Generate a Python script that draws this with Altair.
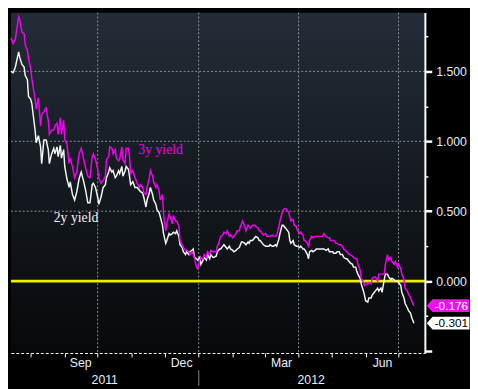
import altair as alt
import pandas as pd

# ---------------- data ----------------
dates = [
    "2011-07-14", "2011-07-16", "2011-07-18", "2011-07-21", "2011-07-22", "2011-07-24", "2011-07-26", "2011-07-27", "2011-07-29", "2011-07-30",
    "2011-08-01", "2011-08-02", "2011-08-05", "2011-08-06", "2011-08-08", "2011-08-10", "2011-08-11", "2011-08-13", "2011-08-15", "2011-08-17",
    "2011-08-18", "2011-08-20", "2011-08-22", "2011-08-23", "2011-08-25", "2011-08-26", "2011-08-28", "2011-08-29", "2011-08-31", "2011-09-01",
    "2011-09-03", "2011-09-05", "2011-09-06", "2011-09-08", "2011-09-10", "2011-09-12", "2011-09-14", "2011-09-16", "2011-09-18", "2011-09-20",
    "2011-09-22", "2011-09-24", "2011-09-26", "2011-09-27", "2011-09-29", "2011-10-01", "2011-10-02", "2011-10-04", "2011-10-06", "2011-10-08",
    "2011-10-09", "2011-10-11", "2011-10-12", "2011-10-14", "2011-10-15", "2011-10-17", "2011-10-18", "2011-10-20", "2011-10-21", "2011-10-23",
    "2011-10-24", "2011-10-26", "2011-10-27", "2011-10-29", "2011-10-30", "2011-10-31", "2011-11-02", "2011-11-04", "2011-11-06", "2011-11-08",
    "2011-11-09", "2011-11-11", "2011-11-12", "2011-11-14", "2011-11-15", "2011-11-17", "2011-11-18", "2011-11-20", "2011-11-21", "2011-11-23",
    "2011-11-24", "2011-11-26", "2011-11-27", "2011-11-29", "2011-11-30", "2011-12-02", "2011-12-03", "2011-12-05", "2011-12-06", "2011-12-08",
    "2011-12-09", "2011-12-11", "2011-12-12", "2011-12-14", "2011-12-15", "2011-12-17", "2011-12-18", "2011-12-20", "2011-12-21", "2011-12-23",
    "2011-12-24", "2011-12-26", "2011-12-27", "2011-12-28", "2011-12-30", "2011-12-31", "2012-01-02", "2012-01-03", "2012-01-05", "2012-01-06",
    "2012-01-08", "2012-01-09", "2012-01-11", "2012-01-12", "2012-01-14", "2012-01-15", "2012-01-17", "2012-01-18", "2012-01-20", "2012-01-21",
    "2012-01-23", "2012-01-24", "2012-01-26", "2012-01-27", "2012-01-29", "2012-01-30", "2012-02-01", "2012-02-02", "2012-02-04", "2012-02-05",
    "2012-02-07", "2012-02-08", "2012-02-09", "2012-02-10", "2012-02-12", "2012-02-13", "2012-02-15", "2012-02-16", "2012-02-17", "2012-02-19",
    "2012-02-21", "2012-02-22", "2012-02-24", "2012-02-25", "2012-02-26", "2012-02-28", "2012-02-29", "2012-03-02", "2012-03-03", "2012-03-05",
    "2012-03-06", "2012-03-08", "2012-03-09", "2012-03-11", "2012-03-12", "2012-03-14", "2012-03-15", "2012-03-17", "2012-03-18", "2012-03-20",
    "2012-03-21", "2012-03-23", "2012-03-24", "2012-03-25", "2012-03-27", "2012-03-28", "2012-03-30", "2012-03-31", "2012-04-02", "2012-04-03",
    "2012-04-05", "2012-04-06", "2012-04-07", "2012-04-09", "2012-04-10", "2012-04-11", "2012-04-13", "2012-04-14", "2012-04-16", "2012-04-17",
    "2012-04-19", "2012-04-20", "2012-04-21", "2012-04-23", "2012-04-24", "2012-04-26", "2012-04-28", "2012-04-29", "2012-04-30", "2012-05-02",
    "2012-05-03", "2012-05-05", "2012-05-06", "2012-05-08", "2012-05-09", "2012-05-11", "2012-05-12", "2012-05-14", "2012-05-15", "2012-05-17",
    "2012-05-18", "2012-05-20", "2012-05-21", "2012-05-23", "2012-05-24", "2012-05-25", "2012-05-27", "2012-05-28", "2012-05-30", "2012-05-31",
    "2012-06-01", "2012-06-03", "2012-06-04", "2012-06-06", "2012-06-07", "2012-06-09", "2012-06-10", "2012-06-12", "2012-06-13", "2012-06-15",
    "2012-06-16", "2012-06-18", "2012-06-19", "2012-06-21", "2012-06-22", "2012-06-24", "2012-06-25", "2012-06-27", "2012-06-28", "2012-06-30",
    "2012-07-01", "2012-07-03", "2012-07-04", "2012-07-06", "2012-07-07", "2012-07-09", "2012-07-10", "2012-07-12", "2012-07-13", "2012-07-15",
]

yield_3y = [
    1.74, 1.70, 1.73, 1.89, 1.87, 1.78, 1.77, 1.69, 1.65, 1.59,
    1.52, 1.45, 1.30, 1.23, 1.31, 1.11, 1.19, 1.21, 1.24, 1.15,
    1.05, 1.08, 1.08, 1.11, 1.13, 1.05, 1.17, 1.05, 1.15, 1.01,
    0.98, 0.84, 0.88, 0.82, 0.74, 0.78, 0.91, 0.95, 0.88, 0.81,
    0.75, 0.74, 0.89, 0.91, 0.87, 0.80, 0.74, 0.70, 0.72, 0.75,
    0.87, 0.89, 0.96, 0.95, 0.91, 0.94, 0.88, 0.86, 0.87, 0.96,
    0.87, 0.84, 0.95, 0.95, 0.89, 0.77, 0.79, 0.74, 0.70, 0.67,
    0.69, 0.67, 0.63, 0.62, 0.67, 0.74, 0.79, 0.75, 0.71, 0.67,
    0.69, 0.64, 0.58, 0.62, 0.48, 0.36, 0.41, 0.48, 0.46, 0.41,
    0.47, 0.43, 0.43, 0.39, 0.29, 0.26, 0.24, 0.22, 0.22, 0.21,
    0.19, 0.21, 0.19, 0.17, 0.10, 0.09, 0.15, 0.17, 0.16, 0.19,
    0.17, 0.21, 0.19, 0.22, 0.21, 0.21, 0.21, 0.25, 0.29, 0.32,
    0.33, 0.35, 0.34, 0.36, 0.32, 0.33, 0.31, 0.32, 0.34, 0.36,
    0.36, 0.39, 0.41, 0.43, 0.39, 0.36, 0.40, 0.39, 0.38, 0.40,
    0.40, 0.39, 0.38, 0.36, 0.36, 0.34, 0.33, 0.34, 0.32, 0.32,
    0.32, 0.33, 0.32, 0.32, 0.33, 0.39, 0.43, 0.49, 0.51, 0.52,
    0.51, 0.49, 0.46, 0.43, 0.44, 0.40, 0.39, 0.36, 0.34, 0.35,
    0.33, 0.29, 0.29, 0.27, 0.25, 0.29, 0.32, 0.31, 0.32, 0.32,
    0.32, 0.32, 0.32, 0.32, 0.34, 0.32, 0.31, 0.31, 0.29, 0.29,
    0.29, 0.27, 0.27, 0.26, 0.26, 0.25, 0.23, 0.22, 0.21, 0.19,
    0.19, 0.18, 0.17, 0.16, 0.16, 0.12, 0.08, 0.02, -0.01, -0.03,
    -0.02, -0.02, -0.01, -0.02, 0.02, 0.03, 0.03, 0.00, 0.05, 0.05,
    0.05, 0.05, 0.12, 0.19, 0.15, 0.17, 0.14, 0.12, 0.14, 0.10,
    0.12, 0.09, 0.05, 0.01, -0.05, -0.07, -0.09, -0.12, -0.14, -0.176,
]

yield_2y = [
    1.50, 1.49, 1.53, 1.64, 1.60, 1.55, 1.53, 1.47, 1.44, 1.32,
    1.30, 1.27, 1.08, 0.99, 1.04, 0.96, 0.84, 1.01, 1.01, 0.94,
    0.84, 0.91, 0.95, 0.91, 0.96, 0.89, 0.97, 0.88, 0.94, 0.82,
    0.73, 0.67, 0.71, 0.62, 0.58, 0.64, 0.73, 0.78, 0.72, 0.65,
    0.56, 0.56, 0.69, 0.70, 0.67, 0.60, 0.55, 0.60, 0.67, 0.69,
    0.74, 0.78, 0.81, 0.78, 0.79, 0.74, 0.75, 0.79, 0.77, 0.82,
    0.75, 0.79, 0.82, 0.80, 0.75, 0.69, 0.71, 0.67, 0.67, 0.65,
    0.64, 0.63, 0.60, 0.53, 0.58, 0.63, 0.67, 0.62, 0.58, 0.55,
    0.51, 0.49, 0.46, 0.40, 0.34, 0.27, 0.29, 0.34, 0.33, 0.34,
    0.35, 0.34, 0.36, 0.32, 0.26, 0.24, 0.21, 0.19, 0.21, 0.19,
    0.21, 0.22, 0.23, 0.17, 0.16, 0.15, 0.17, 0.12, 0.15, 0.17,
    0.15, 0.19, 0.16, 0.19, 0.17, 0.17, 0.18, 0.21, 0.23, 0.23,
    0.25, 0.26, 0.24, 0.23, 0.25, 0.23, 0.22, 0.21, 0.22, 0.23,
    0.24, 0.26, 0.28, 0.28, 0.27, 0.26, 0.28, 0.27, 0.29, 0.29,
    0.31, 0.32, 0.31, 0.29, 0.29, 0.27, 0.26, 0.25, 0.25, 0.25,
    0.26, 0.25, 0.25, 0.26, 0.25, 0.30, 0.34, 0.40, 0.40, 0.38,
    0.37, 0.35, 0.29, 0.27, 0.29, 0.26, 0.25, 0.25, 0.24, 0.25,
    0.23, 0.23, 0.22, 0.19, 0.16, 0.21, 0.22, 0.21, 0.22, 0.23,
    0.23, 0.23, 0.23, 0.23, 0.23, 0.22, 0.23, 0.21, 0.21, 0.21,
    0.20, 0.20, 0.21, 0.21, 0.19, 0.19, 0.17, 0.16, 0.16, 0.14,
    0.13, 0.12, 0.10, 0.10, 0.07, 0.05, 0.02, -0.02, -0.07, -0.10,
    -0.14, -0.15, -0.12, -0.12, -0.10, -0.08, -0.07, -0.05, -0.07, -0.05,
    -0.08, 0.01, 0.05, 0.05, 0.03, 0.01, 0.02, 0.01, 0.00, 0.00,
    -0.01, -0.03, -0.08, -0.12, -0.16, -0.19, -0.21, -0.23, -0.26, -0.301,
]

x_domain = ["2011-07-14", "2012-07-25"]
y_domain = [-0.514, 1.92]
month_starts = ["2011-08-01", "2011-09-01", "2011-10-01", "2011-11-01", "2011-12-01", "2012-01-01",
                "2012-02-01", "2012-03-01", "2012-04-01", "2012-05-01", "2012-06-01", "2012-07-01"]
quarter_grid = ["2011-10-01", "2012-01-01", "2012-04-01", "2012-07-01"]
month_label_pos = ["2011-09-15", "2011-12-16", "2012-03-16", "2012-06-16"]
year_axis_pos = ["2011-10-07", "2012-01-01", "2012-04-12"]
grid_levels = [0.5, 1.0, 1.5]
major_ticks = [-0.5, 0.0, 0.5, 1.0, 1.5]
minor_ticks = [-0.25, 0.25, 0.75, 1.25, 1.75]
series_names = ["3y yield", "2y yield"]
series_label_dates = ["2011-11-07", "2011-08-22"]
series_label_values = [0.91, 0.42]

# ---------------- styling ----------------
SANS = "Liberation Sans"
SERIF = "Liberation Serif"
LBL = "#e4eefa"
MAGENTA = "#f000f0"
WHITE = "#f4f4f4"
GRID = "#8d939a"


def dt(s):
    y, m, d = (int(p) for p in s.split("-"))
    return alt.DateTime(year=y, month=m, date=d, utc=True)


xscale = alt.Scale(type="utc", domain=[dt(s) for s in x_domain], nice=False)
yscale = alt.Scale(domain=y_domain, nice=False, zero=False)

df = pd.DataFrame({"date": dates, "y3": yield_3y, "y2": yield_2y})

bg = alt.Chart(alt.Data(values=[{"a": 1}])).mark_rect(
    fill={"gradient": "linear", "x1": 0, "y1": 0, "x2": 0, "y2": 1,
          "stops": [{"offset": 0, "color": "#232d37"},
                    {"offset": 0.5, "color": "#151a20"},
                    {"offset": 1, "color": "#07090b"}]}
).encode(x=alt.value(0), x2=alt.value("width"), y=alt.value(0), y2=alt.value("height"))

vgrid = alt.Chart(pd.DataFrame({"d": quarter_grid})).mark_rule(
    color=GRID, strokeDash=[2, 2], strokeWidth=1
).encode(x=alt.X("d:T", scale=xscale, axis=None))

hgrid = alt.Chart(pd.DataFrame({"v": grid_levels})).mark_rule(
    color=GRID, strokeDash=[2, 2], strokeWidth=1
).encode(y=alt.Y("v:Q", scale=yscale, axis=None))

zero = alt.Chart(pd.DataFrame({"v": [0.0]})).mark_rule(
    color="#eeee00", strokeWidth=3
).encode(y=alt.Y("v:Q", scale=yscale, axis=None))

yaxis_major = alt.Axis(
    orient="right", values=major_ticks, title=None,
    labelExpr="datum.value < -0.4 ? '' : format(datum.value, '.3f')",
    tickSize=7, tickWidth=2.5, tickColor="white",
    domain=True, domainColor="white", domainWidth=2,
    labelPadding=4, labelColor=LBL, labelFont=SANS, labelFontSize=12.5,
    labelOverlap=False, grid=False, zindex=1,
)
yaxis_minor = alt.Axis(
    orient="right", values=minor_ticks, title=None, labels=False,
    tickSize=3, tickWidth=1.5, tickColor="white", domain=False, grid=False, zindex=1,
)
xaxis_ticks = alt.Axis(
    orient="bottom", values=[dt(s) for s in month_starts], labels=False, title=None,
    tickSize=4, tickColor="white", tickWidth=1,
    domain=True, domainColor="white", domainWidth=1, domainDash=[3, 2],
    grid=False, zindex=1,
)
xaxis_months = alt.Axis(
    orient="bottom", values=[dt(s) for s in month_label_pos],
    labelExpr="utcFormat(datum.value, '%b')",
    ticks=False, tickSize=0, domain=False, grid=False, title=None,
    labelPadding=4, labelColor=LBL, labelFont=SANS, labelFontSize=12.5,
    labelFlush=False, labelOverlap=False, zindex=1,
)
xaxis_years = alt.Axis(
    orient="bottom", offset=17, values=[dt(s) for s in year_axis_pos], title=None,
    labelExpr="utcmonth(datum.value) == 0 ? '' : utcFormat(datum.value, '%Y')",
    tickSize=16, tickColor="#8a8a8a", tickWidth=1,
    tickOpacity={"condition": {"test": "utcmonth(datum.value) == 0", "value": 1}, "value": 0},
    domain=False, grid=False, labelPadding=-12, labelColor=LBL, labelFont=SANS,
    labelFontSize=12.5, labelFlush=False, labelOverlap=False, zindex=1,
)

base = alt.Chart(df)
line2 = base.mark_line(color=WHITE, strokeWidth=1.5).encode(
    x=alt.X("date:T", scale=xscale, axis=xaxis_months),
    y=alt.Y("y2:Q", scale=yscale, axis=yaxis_minor),
)
line3 = base.mark_line(color=MAGENTA, strokeWidth=1.5).encode(
    x=alt.X("date:T", scale=xscale, axis=xaxis_ticks),
    y=alt.Y("y3:Q", scale=yscale, axis=yaxis_major),
)

lab3 = alt.Chart(pd.DataFrame({"d": [series_label_dates[0]], "v": [series_label_values[0]], "t": [series_names[0]]})).mark_text(
    align="left", baseline="alphabetic", font=SERIF, fontSize=14, color=MAGENTA
).encode(x=alt.X("d:T", scale=xscale, axis=None), y=alt.Y("v:Q", scale=yscale, axis=None), text="t:N")
lab2 = alt.Chart(pd.DataFrame({"d": [series_label_dates[1]], "v": [series_label_values[1]], "t": [series_names[1]]})).mark_text(
    align="left", baseline="alphabetic", font=SERIF, fontSize=14, color=WHITE
).encode(x=alt.X("d:T", scale=xscale, axis=xaxis_years), y=alt.Y("v:Q", scale=yscale, axis=None), text="t:N")

TAG = "M0.3,0L1.2,-1L7,-1L7,1L1.2,1Z"
end3 = pd.DataFrame({"d": [x_domain[1]], "v": [yield_3y[-1]], "t": [f"{yield_3y[-1]:.3f}"]})
end2 = pd.DataFrame({"d": [x_domain[1]], "v": [yield_2y[-1]], "t": [f"{yield_2y[-1]:.3f}"]})
enc = dict(x=alt.X("d:T", scale=xscale, axis=None), y=alt.Y("v:Q", scale=yscale, axis=None))

box3 = alt.Chart(end3).mark_point(shape=TAG, size=169, filled=True, color="#f010f0", opacity=1, strokeWidth=0).encode(**enc)
box2 = alt.Chart(end2).mark_point(shape=TAG, size=169, filled=True, color="#ffffff", opacity=1, strokeWidth=0).encode(**enc)
txt3 = alt.Chart(end3).mark_text(align="left", baseline="middle", dx=10, font=SANS, fontSize=12, color="white").encode(text="t:N", **enc)
txt2 = alt.Chart(end2).mark_text(align="left", baseline="middle", dx=10, font=SANS, fontSize=12, color="black").encode(text="t:N", **enc)

chart = alt.layer(
    bg, vgrid, hgrid, zero, line2, line3, lab3, lab2, box3, box2, txt3, txt2
).resolve_axis(x="independent", y="independent").properties(
    width=422, height=347
).configure(background="black", padding=0).configure_view(strokeWidth=0)

chart.save("out.html", embed_options={"renderer": "svg", "actions": False})
